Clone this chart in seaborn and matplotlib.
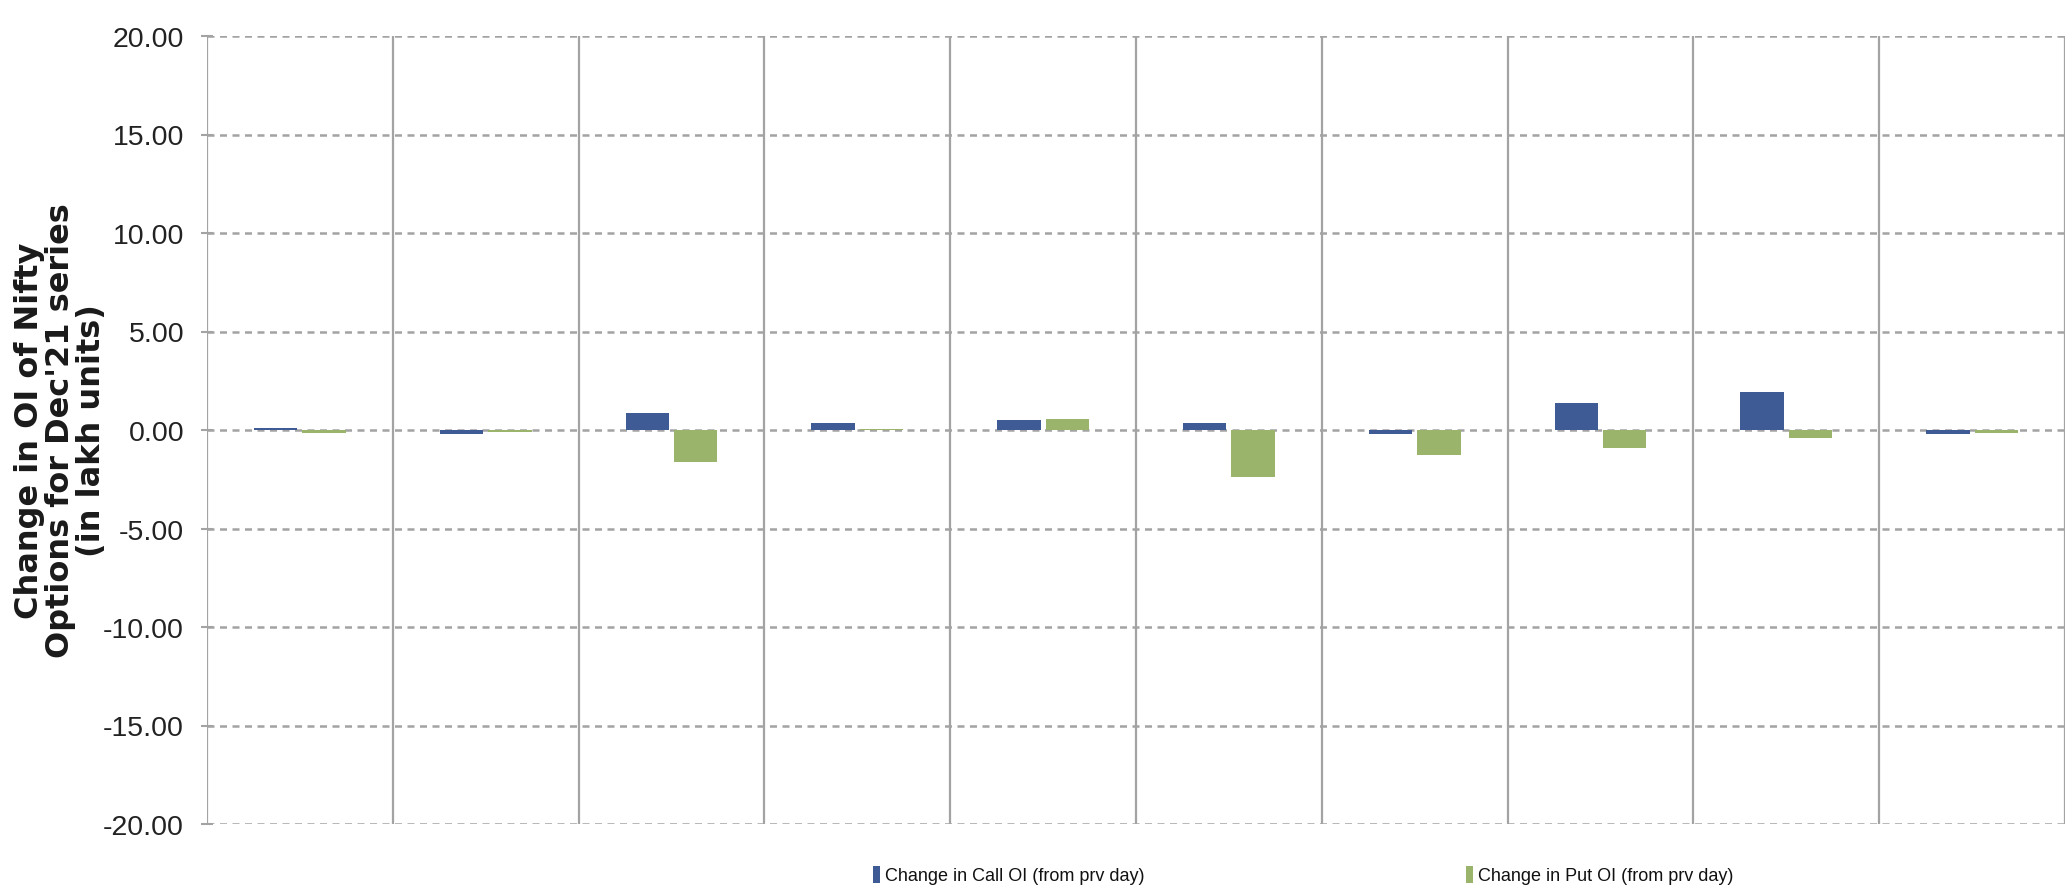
import numpy as np
import pandas as pd
import matplotlib
matplotlib.use("Agg")
import matplotlib.pyplot as plt
import seaborn as sns

# Strike buckets (labels are not printed on the axis)
strikes = ["S1", "S2", "S3", "S4", "S5", "S6", "S7", "S8", "S9", "S10"]
call_change = [0.10, -0.20, 0.88, 0.38, 0.52, 0.37, -0.20, 1.39, 1.93, -0.18]
put_change = [-0.15, -0.10, -1.62, 0.05, 0.55, -2.37, -1.28, -0.93, -0.39, -0.15]
series_names = ["Change in Call OI (from prv day)", "Change in Put OI (from prv day)"]
y_ticks = [-20, -15, -10, -5, 0, 5, 10, 15, 20]

call_color = "#3F5B96"
put_color = "#9BB46C"
grid_color = "#A3A3A3"

df = pd.DataFrame({
    "strike": strikes * 2,
    "value": call_change + put_change,
    "series": [series_names[0]] * len(strikes) + [series_names[1]] * len(strikes),
})

sns.set_theme(style="white")
sans = ["Liberation Sans", "DejaVu Sans"]
plt.rcParams["font.family"] = sans

fig = plt.figure(figsize=(20.7, 8.95), dpi=100)
ax = fig.add_axes([207 / 2070, 1 - 825 / 895, (2065 - 207) / 2070, (825 - 37) / 895])

sns.barplot(
    data=df, x="strike", y="value", hue="series",
    palette=[call_color, put_color], width=0.52, gap=0.1,
    saturation=1, linewidth=0, ax=ax, zorder=3,
)

ax.set_ylim(-20, 20)
ax.set_xlim(-0.5, len(strikes) - 0.5)
ax.set_yticks(y_ticks)
ax.set_yticklabels([f"{v:.2f}" for v in y_ticks], fontsize=20.5, color="#222222",
                   family=sans)

# category separators as minor gridlines, dashed value gridlines
ax.set_xticks(np.arange(-0.5, len(strikes)), minor=True)
ax.tick_params(axis="x", which="both", bottom=False, labelbottom=False)
ax.tick_params(axis="y", which="major", left=True, direction="inout", length=9,
               width=1.5, color=grid_color, pad=12)
ax.grid(axis="x", which="minor", color=grid_color, linestyle="-", linewidth=1.6, zorder=1)
ax.grid(axis="x", which="major", visible=False)
ax.grid(axis="y", which="major", color=grid_color, linestyle=(0, (2.8, 2.2)),
        linewidth=1.8, zorder=1)
ax.set_axisbelow(True)
for sp in ax.spines.values():
    sp.set_visible(False)

ax.set_xlabel("")
ax.set_ylabel("Change in OI of Nifty\nOptions for Dec'21 series\n(in lakh units)",
              fontsize=23, fontweight="bold", family=["DejaVu Sans"],
              linespacing=1.0, multialignment="center", va="center", color="#1a1a1a")
ax.yaxis.set_label_coords(-0.0786, 0.5)

handles, labels = ax.get_legend_handles_labels()
ax.legend(
    handles, labels, loc="center left", bbox_to_anchor=(864 / 2070, 1 - 876 / 895),
    bbox_transform=fig.transFigure, ncol=2, frameon=False, borderpad=0,
    prop={"family": sans, "size": 13}, handlelength=0.37, handleheight=1.1,
    handletextpad=0.3, columnspacing=17.8, labelcolor="#111111",
)

fig.savefig("out.png", dpi=100)
